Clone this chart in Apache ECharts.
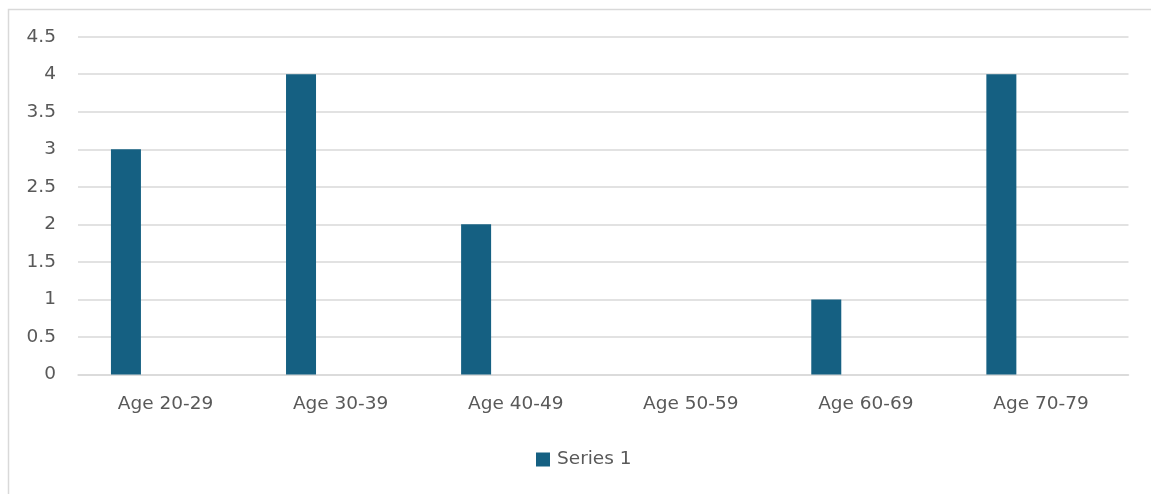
<!DOCTYPE html>
<html><head><meta charset="utf-8">
<script src="https://cdn.jsdelivr.net/npm/echarts@6/dist/echarts.min.js"></script>
<style>html,body{margin:0;padding:0;background:#fff}#c{width:1151px;height:494px}</style>
</head><body><div id="c"></div>
<script>
const categories = ['Age 20-29','Age 30-39','Age 40-49','Age 50-59','Age 60-69','Age 70-79'];
const series1 = [3, 4, 2, 0, 1, 4];
const emptySeries = [null, null, null, null, null, null];
const yTicks = {min: 0, max: 4.5, interval: 0.5};

const chart = echarts.init(document.getElementById('c'));
const font = 'DejaVu Sans';
const fs = 18.5;
chart.setOption({
  animation: false,
  textStyle: {fontFamily: font},
  graphic: [{
    type: 'rect', left: 6, top: 7, silent: true,
    shape: {width: 1160, height: 500},
    style: {fill: 'none', stroke: '#d9d9d9', lineWidth: 1.5}
  }],
  grid: {left: 78, right: 22.5, top: 36.7, bottom: 119.5, containLabel: false},
  legend: {
    data: ['Series 1'], bottom: 20, left: 531,
    icon: 'rect', itemWidth: 14, itemHeight: 14, itemGap: 6,
    textStyle: {color: '#595959', fontSize: fs, fontFamily: font, padding: [0, 0, 0, 2]}
  },
  xAxis: {
    type: 'category', data: categories,
    axisLine: {lineStyle: {color: '#d9d9d9', width: 1.5}},
    axisTick: {show: false},
    axisLabel: {color: '#595959', fontSize: fs, margin: 20, fontFamily: font}
  },
  yAxis: {
    type: 'value', min: yTicks.min, max: yTicks.max, interval: yTicks.interval,
    axisLine: {show: false}, axisTick: {show: false},
    splitLine: {lineStyle: {color: '#d9d9d9', width: 1.5}},
    axisLabel: {color: '#595959', fontSize: fs, margin: 22, fontFamily: font}
  },
  series: [
    {name: 'Series 1', type: 'bar', data: series1, barWidth: 30, barGap: '32%', itemStyle: {color: '#156082'}},
    {name: 'Series 2', type: 'bar', data: emptySeries, barWidth: 30, barGap: '32%'},
    {name: 'Series 3', type: 'bar', data: emptySeries, barWidth: 30, barGap: '32%'}
  ]
});
</script></body></html>
